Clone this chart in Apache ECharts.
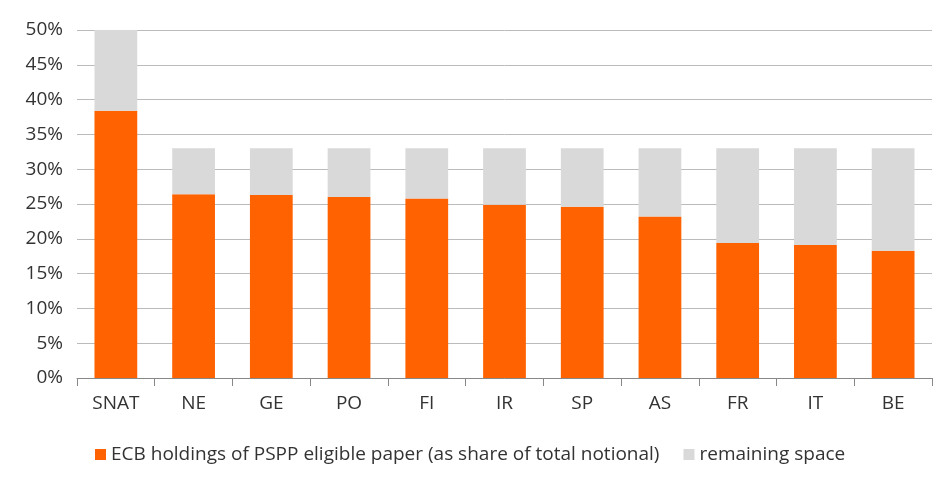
<!DOCTYPE html>
<html><head><meta charset="utf-8">
<script src="https://cdn.jsdelivr.net/npm/echarts@6/dist/echarts.min.js"></script>
<style>html,body{margin:0;padding:0;background:#fff}#c{width:952px;height:491px}</style>
</head><body><div id="c"></div>
<script>
const categories=['SNAT','NE','GE','PO','FI','IR','SP','AS','FR','IT','BE'];
const holdings=[38.4,26.4,26.3,26.0,25.8,24.9,24.6,23.2,19.4,19.1,18.3];
const limits=[50,33,33,33,33,33,33,33,33,33,33];
const remaining=holdings.map((v,i)=>+(limits[i]-v).toFixed(1));
const chart=echarts.init(document.getElementById('c'));
const font='"Open Sans", "Noto Sans", sans-serif';
chart.setOption({
  animation:false,
  grid:{left:77,right:20,top:30,bottom:113},
  legend:{bottom:22,left:90,itemWidth:11,itemHeight:11,itemGap:24,icon:'rect',
    textStyle:{fontFamily:font,fontSize:19,color:'#333'},
    data:['ECB holdings of PSPP eligible paper (as share of total notional)','remaining space']},
  xAxis:{type:'category',data:categories,
    axisLine:{lineStyle:{color:'#888'}},axisTick:{show:true,length:8,lineStyle:{color:'#888'}},
    axisLabel:{fontFamily:font,fontSize:19,color:'#333',margin:16}},
  yAxis:{type:'value',min:0,max:50,interval:5,
    axisLabel:{formatter:'{value}%',fontFamily:font,fontSize:19,color:'#333',margin:14},
    splitLine:{lineStyle:{color:'#bbb'}},axisLine:{show:false},axisTick:{show:false}},
  series:[
    {name:'ECB holdings of PSPP eligible paper (as share of total notional)',type:'bar',stack:'a',
     data:holdings,barWidth:'55%',itemStyle:{color:'#ff6200'}},
    {name:'remaining space',type:'bar',stack:'a',data:remaining,itemStyle:{color:'#d9d9d9'}}
  ]
});
</script></body></html>
